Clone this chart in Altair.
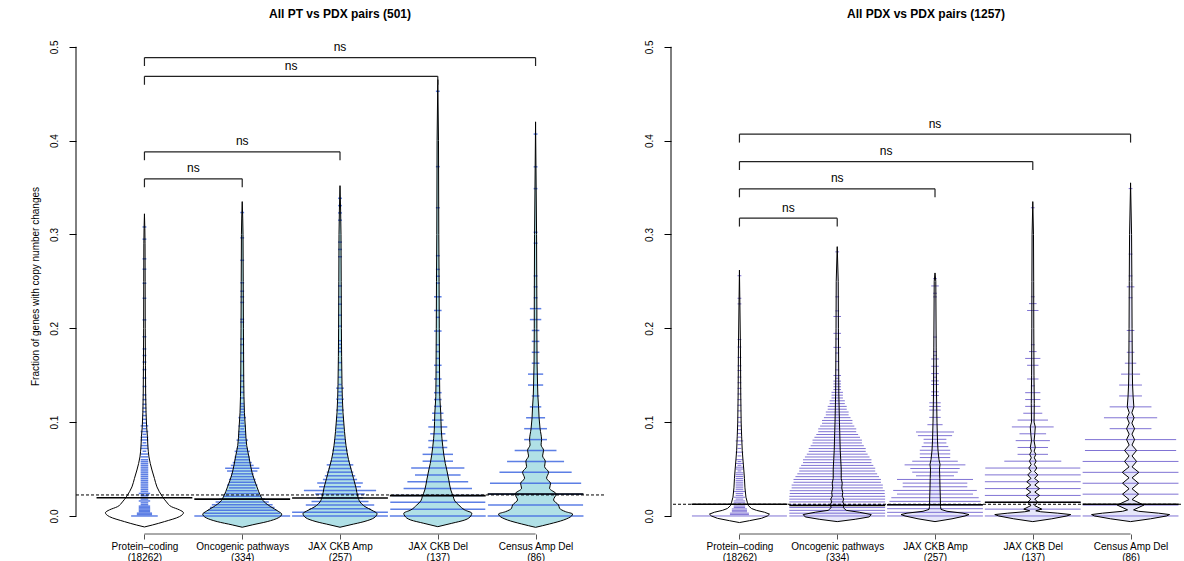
import altair as alt
import pandas as pd

FONT = "Liberation Sans"

# ---------------- categories / labels ----------------
GROUPS = ["Protein–coding", "Oncogenic pathways", "JAX CKB Amp", "JAX CKB Del", "Census Amp Del"]
GENE_N = [18262, 334, 257, 137, 86]
TITLES = ["All PT vs PDX pairs (501)", "All PDX vs PDX pairs (1257)"]
Y_TITLE = "Fraction of genes with copy number changes"
Y_TICKS = [0.0, 0.1, 0.2, 0.3, 0.4, 0.5]
BRACKET_LABEL = "ns"

# ---------------- group means and overall means ----------------
L_MEANS = [0.0195, 0.0180, 0.0192, 0.0217, 0.0234]
L_OVERALL = 0.0224
R_MEANS = [0.0125, 0.0112, 0.0120, 0.0146, 0.0125]
R_OVERALL = 0.0125

# ---------------- significance brackets (group 1 vs group N) ----------------
L_BR_END = [2, 3, 4, 5]
L_BR_Y = [0.3593, 0.3881, 0.4685, 0.4885]
R_BR_END = [2, 3, 4, 5]
R_BR_Y = [0.3174, 0.3486, 0.3777, 0.4069]

# ---------------- bean lines: pairs per value ----------------
# Protein-coding: fraction values and number of pairs at each
L_PC_VAL = [0.0, 0.0015, 0.003, 0.0045, 0.006, 0.0075, 0.009, 0.0105, 0.012,
            0.014, 0.016, 0.018, 0.020, 0.022, 0.024, 0.026, 0.028, 0.030, 0.032, 0.034, 0.036,
            0.038, 0.040, 0.042, 0.044, 0.046, 0.048, 0.050, 0.052, 0.054, 0.056, 0.058, 0.060,
            0.063, 0.066, 0.069, 0.072, 0.075, 0.078, 0.081, 0.084, 0.087, 0.090, 0.093, 0.096, 0.099,
            0.103, 0.107, 0.111, 0.115, 0.119, 0.124, 0.129,
            0.138, 0.147, 0.156, 0.164, 0.171, 0.178, 0.191, 0.209, 0.232, 0.248, 0.263, 0.274, 0.295, 0.308]
L_PC_CNT = [7, 4, 4, 3, 3, 3, 3, 3, 2,
            2, 3, 2, 2, 2, 3, 2, 2, 2, 2, 2, 2,
            2, 2, 2, 2, 2, 2, 2, 2, 2, 2, 2, 2,
            2, 2, 1, 2, 2, 1, 2, 2, 1, 2, 1, 2, 1,
            1, 1, 1, 1, 1, 1, 1,
            1, 1, 1, 1, 1, 1, 1, 1, 1, 1, 1, 1, 1, 1]
R_PC_VAL = [0.0, 0.0015, 0.003, 0.0045, 0.006, 0.0075, 0.009, 0.0105, 0.012,
            0.014, 0.016, 0.018, 0.020, 0.022, 0.024, 0.026, 0.028, 0.030, 0.032, 0.034, 0.036,
            0.038, 0.040, 0.042, 0.044, 0.046, 0.048, 0.050, 0.052, 0.054, 0.056, 0.058, 0.060,
            0.064, 0.068, 0.072, 0.076, 0.080, 0.084, 0.088, 0.092, 0.096, 0.100,
            0.105, 0.112, 0.118, 0.124, 0.130, 0.136, 0.142, 0.148, 0.155, 0.160,
            0.169, 0.180, 0.188, 0.226, 0.232, 0.256]
R_PC_CNT = [25, 5, 5, 4, 4, 4, 3, 3, 3,
            3, 3, 2, 3, 2, 2, 3, 2, 2, 2, 2, 2,
            2, 2, 2, 2, 2, 1, 2, 2, 1, 2, 1, 2,
            1, 2, 1, 1, 2, 1, 1, 1, 1, 1,
            1, 1, 1, 1, 1, 1, 1, 1, 1, 1,
            1, 1, 1, 1, 1, 1]

# Gene-set groups: number of pairs with k altered genes (k = 0, 1, 2, ...)
L_ONC_K = list(range(41)) + [42, 44, 46, 48, 50, 55, 58, 61, 63, 69, 70, 76, 78, 80, 83, 91, 99, 108]
L_ONC_N = [30, 20, 18, 17, 16, 14, 12, 10, 9, 8, 7, 8, 7, 7, 6, 6, 8, 9, 6, 5, 4,
           4, 3, 4, 3, 2, 2, 3, 2, 2, 2, 1, 2, 1, 1, 2, 1, 1, 1, 1, 1] + [1] * 18
L_AMP_K = list(range(37)) + [38, 40, 42, 45, 46, 47, 48, 52, 55, 58, 60, 63, 71, 73, 75, 81, 83, 85, 87]
L_AMP_N = [30, 26, 16, 18, 15, 12, 13, 19, 11, 12, 9, 8, 7, 6, 7, 5, 4, 4, 4, 3, 3,
           3, 2, 2, 2, 2, 2, 2, 1, 2, 1, 1, 2, 1, 1, 2, 1] + [1] * 19
L_DEL_K = list(range(26)) + [27, 29, 30, 32, 34, 35, 36, 38, 45, 51, 62]
L_DEL_N = [40, 25, 25, 24, 18, 16, 12, 14, 8, 8, 5, 5, 4, 5, 3, 3, 2, 2, 2, 1, 2,
           1, 2, 1, 1, 1] + [2, 1, 2, 2, 1, 1, 1, 1, 1, 1, 1]
L_CEN_K = list(range(36))
L_CEN_N = [40, 25, 25, 24, 19, 15, 11, 6, 6, 5, 3, 2, 4, 4, 2, 2, 2, 2, 3, 3,
           1, 1, 1, 0, 0, 1, 1, 0, 0, 0, 1, 0, 1, 0, 0, 1]

R_ONC_K = list(range(51)) + [52, 55, 58, 60, 63, 65, 71, 73, 78, 94]
R_ONC_N = [60, 40, 35, 32, 30, 28, 27,
           26, 25, 25, 24, 24, 23, 23, 22,
           21, 20, 20, 19, 18, 18, 17,
           16, 15, 15, 14, 13, 13, 12,
           11, 10, 10, 9, 8, 8, 7,
           6, 6, 5, 5, 4, 4, 3,
           3, 3, 2, 2, 2, 2, 1, 2] + [1, 1, 1, 2, 1, 2, 2, 1, 1, 1]
R_AMP_K = list(range(24)) + [25, 27, 29, 30, 31, 33, 34, 36, 37, 38, 39, 41, 43, 44, 45, 49, 60, 61, 63, 65]
R_AMP_N = [40, 30, 30, 28, 24, 23, 20, 22, 17, 17, 20, 10, 12, 13, 16, 12, 8, 8, 8, 7,
           6, 6, 9, 10] + [4, 3, 3, 3, 3, 2, 2, 2, 2, 1, 2, 2, 2, 1, 1, 1, 1, 1, 2, 1]
R_DEL_K = list(range(26)) + [30, 31, 32, 45]
R_DEL_N = [50, 40, 35, 32, 30, 28, 26, 25, 15, 8, 8, 9, 7, 11, 8, 5, 4, 4, 4, 1,
           3, 0, 3, 4, 2, 1] + [3, 2, 1, 1]
R_CEN_K = list(range(25)) + [30]
R_CEN_N = [60, 40, 30, 30, 28, 27, 24, 24, 11, 14, 11, 6, 6, 5, 3, 2, 1, 2, 0, 0,
           1, 2, 1, 0, 1] + [1]

# ---------------- bean (density) outlines: value and half-width ----------------
L_PC_VV = [-0.0117, -0.0096, -0.006, -0.0007, 0.0035, 0.0065, 0.0099, 0.015, 0.0206, 0.031, 0.040,
           0.049, 0.063, 0.075, 0.0845, 0.095, 0.11, 0.13, 0.16, 0.20, 0.25, 0.29, 0.322]
L_PC_VW = [0, 8, 20, 35, 39, 35, 27, 22, 18, 12.5, 10, 7.5, 4.5, 3.4, 3, 2.2, 1.6, 1.2, 1.0, 0.8, 0.7, 0.6, 0]
L_ONC_VV = [-0.012, -0.0095, -0.006, -0.002, 0.002, 0.005, 0.0099, 0.015, 0.0206, 0.031, 0.0455,
            0.063, 0.075, 0.0917, 0.11, 0.145, 0.2, 0.25, 0.3, 0.335]
L_ONC_VW = [0, 10, 25, 36, 39.5, 36, 28.5, 22, 18.7, 14.7, 10, 6.7, 4.5, 3.3, 2.2, 1.5, 1.2, 1.0, 0.8, 0]
L_AMP_VV = [-0.012, -0.0095, -0.006, -0.002, 0.0025, 0.006, 0.010, 0.015, 0.020, 0.030, 0.040,
            0.050, 0.060, 0.075, 0.090, 0.110, 0.140, 0.200, 0.300, 0.352]
L_AMP_VW = [0, 10, 24, 34, 37, 32, 25, 20, 18, 16, 13.5, 11, 8.5, 6, 4.5, 3, 2, 1.4, 1.0, 0]
L_DEL_VV = [-0.0114, -0.0078, -0.0043, 0.0, 0.0029, 0.0064, 0.0117, 0.016, 0.0206, 0.0277, 0.0384,
            0.049, 0.056, 0.074, 0.0917, 0.1095, 0.127, 0.145, 0.2, 0.25, 0.3, 0.4, 0.465]
L_DEL_VW = [0, 14, 27, 33, 34, 27, 21, 17, 15.5, 13, 11, 9, 7.5, 5, 3.5, 3, 2, 1.8, 1.5, 1.3, 1.0, 0.7, 0]
L_CEN_VV = [-0.0121, -0.0085, -0.0043, 0.0, 0.0021, 0.0046, 0.0082, 0.0117, 0.0171, 0.0234, 0.0295,
            0.0348, 0.0402, 0.0466, 0.0526, 0.0583, 0.064, 0.070, 0.0757, 0.0814, 0.093, 0.1048,
            0.1165, 0.128, 0.1397, 0.163, 0.2, 0.22, 0.3, 0.42]
L_CEN_VW = [0, 14, 28, 36, 37, 30, 24, 23, 18, 20.5, 14, 15, 11, 13, 9, 9.7, 7, 8, 5.5, 6, 4.5, 3.5,
            3, 2.3, 2, 1.5, 1.3, 1.3, 1.0, 0]

R_PC_VV = [-0.007, -0.005, -0.0025, 0.0, 0.002, 0.004, 0.006, 0.008, 0.011, 0.014, 0.02, 0.03, 0.04,
           0.05, 0.06, 0.07, 0.085, 0.1, 0.13, 0.18, 0.262]
R_PC_VW = [0, 10, 22, 28, 30, 25, 17, 12, 9, 8, 6.5, 5.5, 5, 4.3, 3.5, 2.8, 2.2, 1.7, 1.3, 1.0, 0]
R_ONC_VV = [-0.006, -0.0035, -0.001, 0.0015, 0.004, 0.006, 0.009, 0.012, 0.015, 0.018, 0.021, 0.025,
            0.03, 0.035, 0.04, 0.05, 0.06, 0.07, 0.09, 0.1, 0.13, 0.2, 0.25, 0.287]
R_ONC_VW = [0, 18, 32, 34, 22, 9, 6, 7, 5.5, 6.5, 5, 5.5, 4.5, 5, 4, 4, 3.5, 3, 2.5, 2.2, 1.6, 1.2, 1.0, 0]
R_AMP_VV = [-0.006, -0.003, 0.0, 0.0015, 0.003, 0.005, 0.007, 0.01, 0.02, 0.03, 0.04, 0.05, 0.055,
            0.06, 0.07, 0.08, 0.1, 0.13, 0.18, 0.25, 0.259]
R_AMP_VW = [0, 17, 30, 34, 28, 12, 6, 5.5, 5.3, 5, 4.8, 4.5, 5, 4, 3, 2.5, 2, 1.5, 1.2, 0.8, 0]
R_DEL_VV = [-0.006, -0.003, 0.0, 0.0015, 0.003, 0.0045, 0.0055, 0.0073, 0.011, 0.0146, 0.018, 0.0219,
            0.0255, 0.0292, 0.033, 0.0365, 0.040, 0.0438, 0.0475, 0.0511, 0.0548, 0.0584, 0.062,
            0.0657, 0.069, 0.073, 0.08, 0.0876, 0.0949, 0.1, 0.12, 0.15, 0.2, 0.25, 0.3, 0.335]
R_DEL_VW = [0, 19, 34, 38, 25, 8, 3, 9, 2, 5, 2, 6.7, 2, 6.7, 2, 6, 1.8, 5, 1.7, 4, 1.6, 3.3, 1.5,
            3, 1.4, 2.5, 1.3, 2, 2.5, 1.3, 1.5, 1.2, 1.0, 0.9, 0.7, 0]
R_CEN_VV = [-0.006, -0.003, 0.0, 0.0015, 0.003, 0.005, 0.0065, 0.0116, 0.0175, 0.0233, 0.029, 0.0349,
            0.0407, 0.0465, 0.0523, 0.0581, 0.064, 0.0698, 0.0756, 0.0814, 0.0872, 0.093, 0.099,
            0.1047, 0.110, 0.1163, 0.128, 0.1395, 0.151, 0.2, 0.25, 0.3, 0.355]
R_CEN_VW = [0, 20, 36, 39, 28, 8, 3, 13.3, 1.5, 8, 1.5, 8, 1.5, 8.3, 1.5, 6, 1.5, 6, 1.4, 4, 1.4, 4,
            1.3, 3.5, 1.3, 3.3, 2.5, 2, 1.8, 1.5, 1.3, 1.0, 0]

# ---------------- styling / geometry ----------------
L_FILLS = ["white", "#B0E0E6", "#B0E0E6", "#B0E0E6", "#B0E0E6"]
R_FILLS = ["white", "#E6E6FA", "#E6E6FA", "#E6E6FA", "#E6E6FA"]
L_LINE = "#4169E1"
R_LINE = "#6A5ACD"
L_LINE_W, R_LINE_W = 1.5, 1.0
AXIS_GREY = "#555555"

PLOT_H = 506
L_W, R_W = 528, 510
PX_PER_UNIT = 97.78
X_LO = 0.3
L_X_HI = X_LO + L_W / PX_PER_UNIT
R_X_HI = X_LO + R_W / PX_PER_UNIT
Y_LO, Y_HI = -0.0192, 0.52
LINE_PX_PER_PAIR = 1.9
MAX_HALF = 0.49
MEAN_HALF = 0.49
BR_DROP = 0.009
BR_LIFT = 0.0112


def check(*pairs):
    for a, b in pairs:
        assert len(a) == len(b), (len(a), len(b))


check((L_PC_VAL, L_PC_CNT), (R_PC_VAL, R_PC_CNT), (L_ONC_K, L_ONC_N), (L_AMP_K, L_AMP_N),
      (L_DEL_K, L_DEL_N), (L_CEN_K, L_CEN_N), (R_ONC_K, R_ONC_N), (R_AMP_K, R_AMP_N),
      (R_DEL_K, R_DEL_N), (R_CEN_K, R_CEN_N), (L_PC_VV, L_PC_VW), (L_ONC_VV, L_ONC_VW),
      (L_AMP_VV, L_AMP_VW), (L_DEL_VV, L_DEL_VW), (L_CEN_VV, L_CEN_VW), (R_PC_VV, R_PC_VW),
      (R_ONC_VV, R_ONC_VW), (R_AMP_VV, R_AMP_VW), (R_DEL_VV, R_DEL_VW), (R_CEN_VV, R_CEN_VW))

label_expr = ""
for i, (g, n) in enumerate(zip(GROUPS, GENE_N)):
    label_expr += f"datum.value == {i + 1} ? ['{g}', '({n})'] : "
label_expr += "''"


def beans(values_list, counts_list):
    rows = []
    for gi, (vals, cnts) in enumerate(zip(values_list, counts_list), start=1):
        for v, c in zip(vals, cnts):
            if c <= 0:
                continue
            h = min(c * LINE_PX_PER_PAIR / PX_PER_UNIT, MAX_HALF)
            rows.append({"x": gi - h, "x2": gi + h, "y": v})
    return pd.DataFrame(rows)


def outlines(vv_list, vw_list, fills):
    rows = []
    for gi, (vv, vw) in enumerate(zip(vv_list, vw_list), start=1):
        for v, w in zip(vv, vw):
            h = w / PX_PER_UNIT
            rows.append({"group": GROUPS[gi - 1], "y": v, "x": gi - h, "x2": gi + h, "fill": fills[gi - 1]})
    return pd.DataFrame(rows)


def panel(title, vv_list, vw_list, fills, val_list, cnt_list, line_color, line_w, means, overall,
          br_end, br_y, width, x_hi, interp, show_ytitle):
    xs = alt.Scale(domain=[X_LO, x_hi], nice=False, zero=False)
    ys = alt.Scale(domain=[Y_LO, Y_HI], nice=False, zero=False)
    xax = alt.Axis(values=[1, 2, 3, 4, 5], labelExpr=label_expr, domain=False, grid=False,
                   tickSize=5, tickColor=AXIS_GREY, labelFont=FONT, labelFontSize=10,
                   labelColor="black", labelPadding=2, labelLineHeight=11, labelBaseline="top",
                   labelAlign="center", labelFlush=False, labelOverlap=False, title=None)
    ykw = dict(values=Y_TICKS, format=".1f", domain=False, grid=False, tickSize=7, tickColor="black",
               labelAngle=270, labelAlign="center", labelBaseline="bottom", labelPadding=10,
               labelFont=FONT, labelFontSize=10, labelColor="black", labelFlush=False,
               labelOverlap=False)
    if show_ytitle:
        ykw.update(title=Y_TITLE, titleFont=FONT, titleFontSize=10, titleFontWeight="normal",
                   titleColor="black", titleAngle=270, titleX=-38, titleY=258,
                   titleBaseline="alphabetic", titleAlign="center")
    else:
        ykw.update(title=None)
    yax = alt.Axis(**ykw)

    def X():
        return alt.X("x:Q", scale=xs, axis=xax)

    def Y():
        return alt.Y("y:Q", scale=ys, axis=yax)

    odf = outlines(vv_list, vw_list, fills)
    bdf = beans(val_list, cnt_list)
    mdf = pd.DataFrame({"x": [i + 1 - MEAN_HALF for i in range(5)],
                        "x2": [i + 1 + MEAN_HALF for i in range(5)], "y": means})
    odf_all = pd.DataFrame({"y": [overall]})
    yaxis_df = pd.DataFrame({"x": [X_LO], "y": [Y_TICKS[0]], "y2": [Y_TICKS[-1]]})
    xaxis_df = pd.DataFrame({"x": [1], "x2": [5], "y": [Y_LO]})
    seg = []
    txt = []
    for e, h in zip(br_end, br_y):
        seg.append({"x": 1, "x2": e, "y": h, "y2": h})
        seg.append({"x": 1, "x2": 1, "y": h, "y2": h - BR_DROP})
        seg.append({"x": e, "x2": e, "y": h, "y2": h - BR_DROP})
        txt.append({"x": (1 + e) / 2, "y": h + BR_LIFT, "t": BRACKET_LABEL})
    sdf = pd.DataFrame(seg)
    tdf = pd.DataFrame(txt)

    fill_layer = alt.Chart(odf).mark_area(orient="horizontal", interpolate=interp, strokeWidth=0).encode(
        y=Y(), x=X(), x2="x2:Q", fill=alt.Fill("fill:N", scale=None), detail="group:N")
    line_layer = alt.Chart(bdf).mark_rule(color=line_color, strokeWidth=line_w, opacity=0.85).encode(
        y=Y(), x=X(), x2="x2:Q")
    edge_layer = alt.Chart(odf).mark_area(orient="horizontal", interpolate=interp, fillOpacity=0,
                                          stroke="black", strokeWidth=1).encode(
        y=Y(), x=X(), x2="x2:Q", detail="group:N")
    mean_layer = alt.Chart(mdf).mark_rule(color="black", strokeWidth=1.6).encode(y=Y(), x=X(), x2="x2:Q")
    overall_layer = alt.Chart(odf_all).mark_rule(color="black", strokeWidth=1, strokeDash=[3, 2]).encode(y=Y())
    yline = alt.Chart(yaxis_df).mark_rule(color="black", strokeWidth=1).encode(x=X(), y=Y(), y2="y2:Q")
    xline = alt.Chart(xaxis_df).mark_rule(color=AXIS_GREY, strokeWidth=1).encode(x=X(), x2="x2:Q", y=Y())
    br_layer = alt.Chart(sdf).mark_rule(color="#222222", strokeWidth=1.2).encode(
        x=X(), x2="x2:Q", y=Y(), y2="y2:Q")
    ns_layer = alt.Chart(tdf).mark_text(font=FONT, fontSize=12, baseline="middle", color="black").encode(
        x=X(), y=Y(), text="t:N")

    return alt.layer(fill_layer, line_layer, edge_layer, mean_layer, overall_layer, yline, xline,
                     br_layer, ns_layer).properties(
        width=width, height=PLOT_H,
        title=alt.TitleParams(text=title, font=FONT, fontSize=12, fontWeight="bold", color="black",
                              offset=7, anchor="middle", frame="group"))


left = panel(TITLES[0],
             [L_PC_VV, L_ONC_VV, L_AMP_VV, L_DEL_VV, L_CEN_VV],
             [L_PC_VW, L_ONC_VW, L_AMP_VW, L_DEL_VW, L_CEN_VW], L_FILLS,
             [L_PC_VAL] + [[k / GENE_N[i] for k in ks] for i, ks in
                           zip([1, 2, 3, 4], [L_ONC_K, L_AMP_K, L_DEL_K, L_CEN_K])],
             [L_PC_CNT, L_ONC_N, L_AMP_N, L_DEL_N, L_CEN_N], L_LINE, L_LINE_W, L_MEANS, L_OVERALL,
             L_BR_END, L_BR_Y, L_W, L_X_HI, "monotone", True)

right = panel(TITLES[1],
              [R_PC_VV, R_ONC_VV, R_AMP_VV, R_DEL_VV, R_CEN_VV],
              [R_PC_VW, R_ONC_VW, R_AMP_VW, R_DEL_VW, R_CEN_VW], R_FILLS,
              [R_PC_VAL] + [[k / GENE_N[i] for k in ks] for i, ks in
                            zip([1, 2, 3, 4], [R_ONC_K, R_AMP_K, R_DEL_K, R_CEN_K])],
              [R_PC_CNT, R_ONC_N, R_AMP_N, R_DEL_N, R_CEN_N], R_LINE, R_LINE_W, R_MEANS, R_OVERALL,
              R_BR_END, R_BR_Y, R_W, R_X_HI, "linear", False)

chart = alt.hconcat(left, right, spacing=67, bounds="flush",
                    padding={"left": 30, "top": 8, "right": 0, "bottom": 0}).configure_view(stroke=None)

chart.save("out.html", embed_options={"renderer": "svg", "actions": False})
